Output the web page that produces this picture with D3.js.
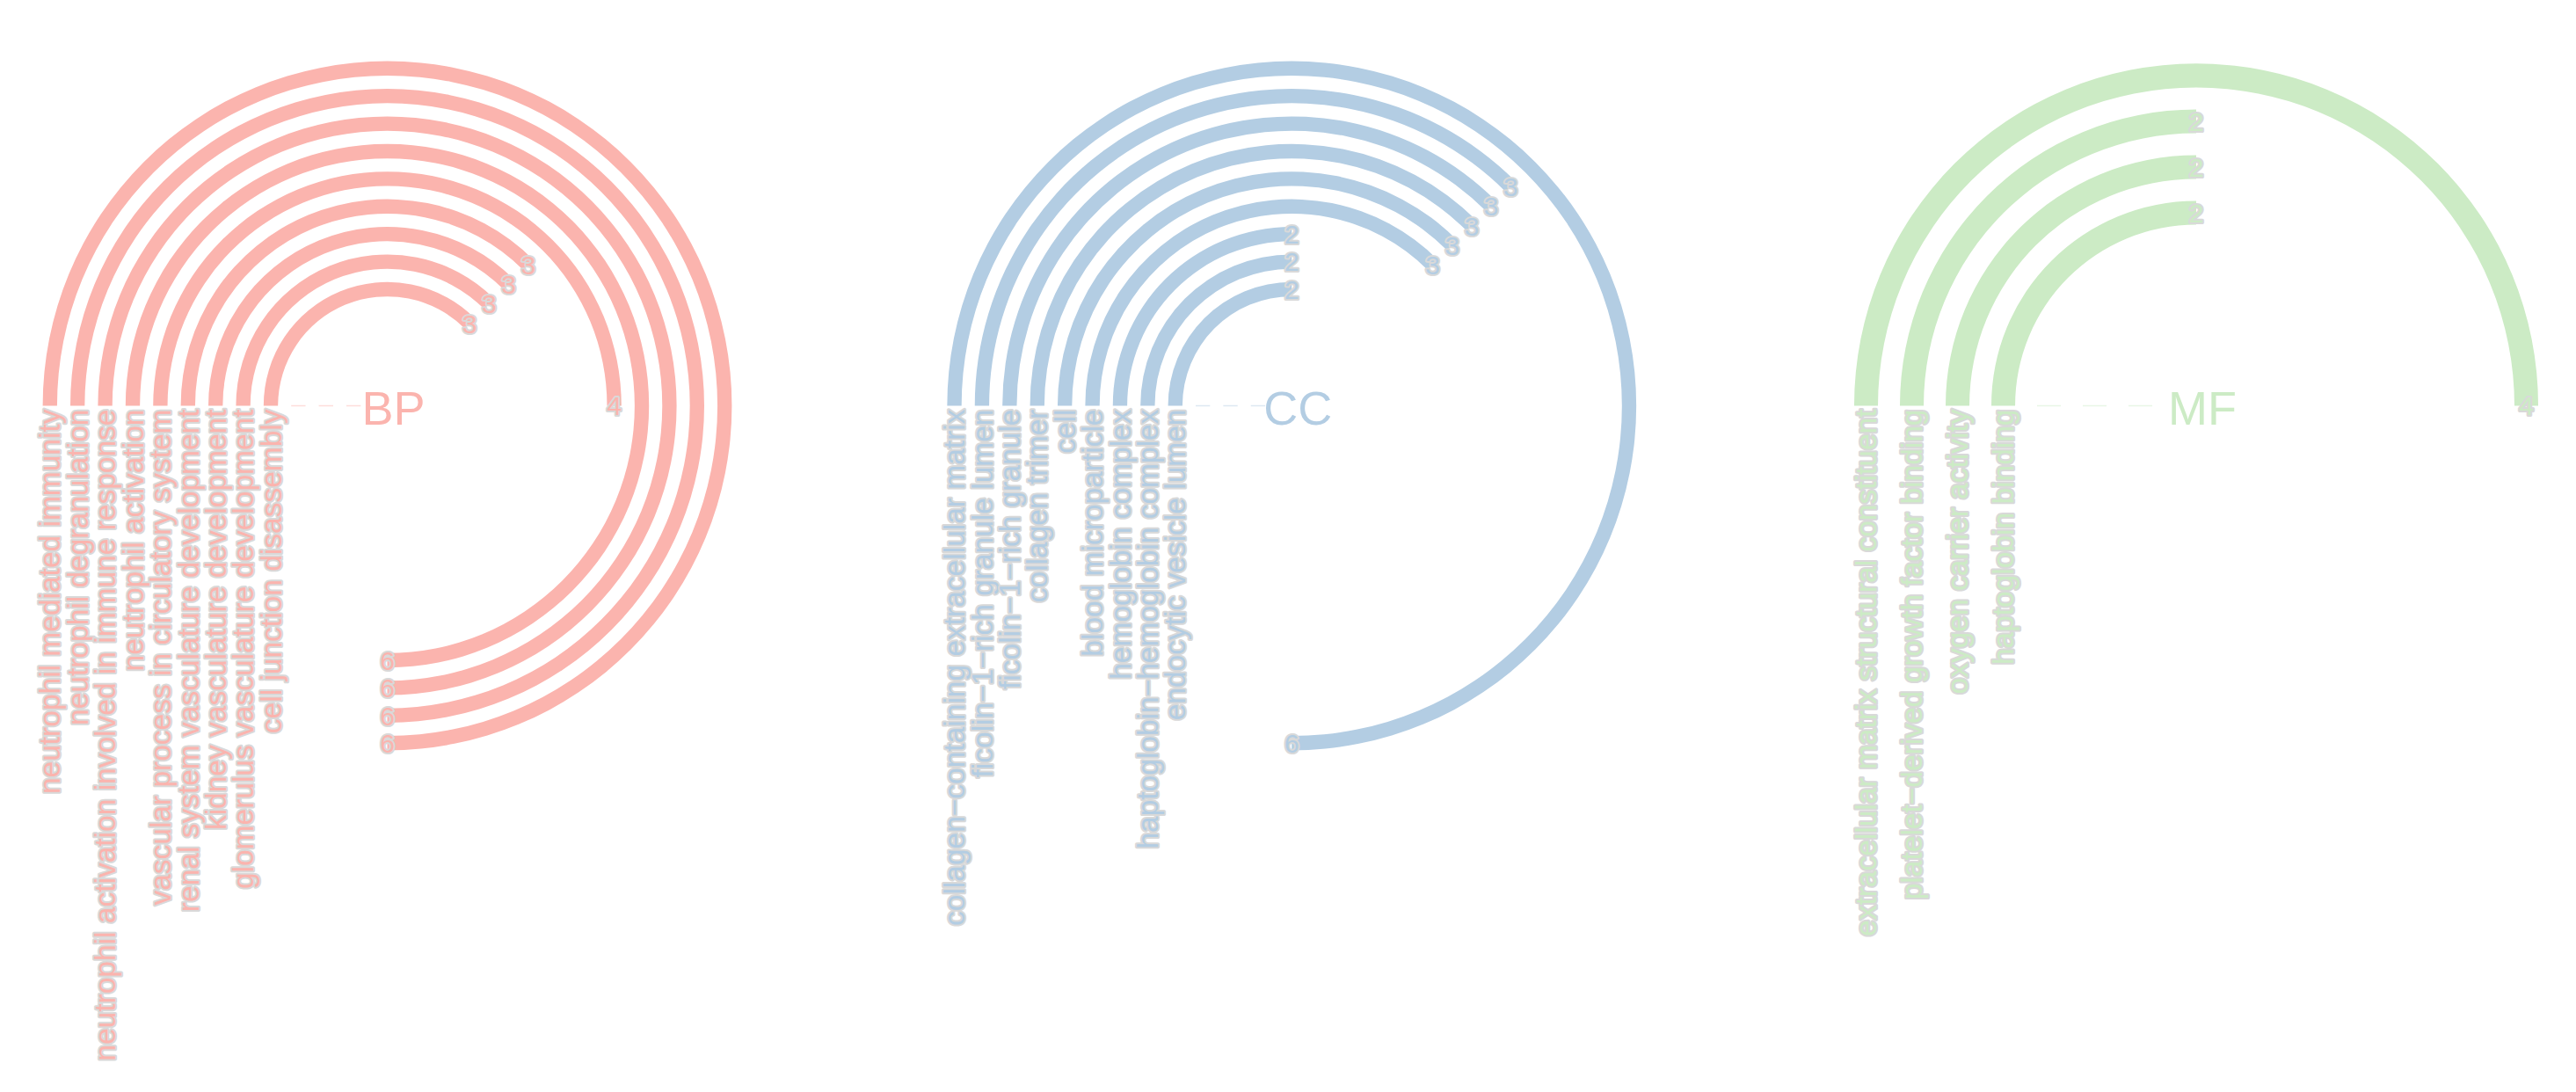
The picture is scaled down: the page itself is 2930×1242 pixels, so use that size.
<!DOCTYPE html>
<html>
<head>
<meta charset="utf-8">
<script src="https://cdn.jsdelivr.net/npm/d3@7"></script>
<style>
  html, body { margin: 0; padding: 0; background: #ffffff; }
  svg { display: block; }
</style>
</head>
<body>
<svg id="chart" width="2930" height="1242"></svg>
<script>
// ---- data ----
const panelNames = ["BP", "CC", "MF"];
const panelColors = ["#FBB4AE", "#B3CDE3", "#CCEBC5"];

const bpTerms = [
  "neutrophil mediated immunity",
  "neutrophil degranulation",
  "neutrophil activation involved in immune response",
  "neutrophil activation",
  "vascular process in circulatory system",
  "renal system vasculature development",
  "kidney vasculature development",
  "glomerulus vasculature development",
  "cell junction disassembly"
];
const bpCounts = [6, 6, 6, 6, 4, 3, 3, 3, 3];

const ccTerms = [
  "collagen\u2212containing extracellular matrix",
  "ficolin\u22121\u2212rich granule lumen",
  "ficolin\u22121\u2212rich granule",
  "collagen trimer",
  "cell",
  "blood microparticle",
  "hemoglobin complex",
  "haptoglobin\u2212hemoglobin complex",
  "endocytic vesicle lumen"
];
const ccCounts = [6, 3, 3, 3, 3, 3, 2, 2, 2];

const mfTerms = [
  "extracellular matrix structural constituent",
  "platelet\u2212derived growth factor binding",
  "oxygen carrier activity",
  "haptoglobin binding"
];
const mfCounts = [4, 2, 2, 2];

const panelTerms = [bpTerms, ccTerms, mfTerms];
const panelCounts = [bpCounts, ccCounts, mfCounts];

// ---- layout ----
const svg = d3.select("#chart");
const cy = 461.5;
const xPanel = d3.scaleLinear().domain([0, 2]).range([440.5, 2498]);
const angle = d3.scaleLinear().domain([0, 8]).range([-Math.PI / 2, 1.5 * Math.PI]);
const Rmax = 396.3;
const haloColor = "#d9d9d9";
const fontFamily = "'Liberation Sans', Arial, Helvetica, sans-serif";

panelNames.forEach((name, p) => {
  const terms = panelTerms[p];
  const counts = panelCounts[p];
  const color = panelColors[p];
  const n = terms.length;
  const cx = xPanel(p);
  const radius = d3.scaleLinear().domain([-3.22, n + 0.4]).range([0, Rmax]);
  const step = radius(1) - radius(0);
  const bw = step * 0.52;

  const g = svg.append("g").attr("transform", `translate(${cx},${cy})`);

  const rows = terms.map((t, i) => ({ term: t, count: counts[i], k: n - i }));

  // faint empty-level ghosts (zero-length bars)
  const ghosts = [0, -1, -2];
  g.selectAll("line.ghost").data(ghosts).join("line")
    .attr("class", "ghost")
    .attr("x1", k => -(radius(k) - bw / 2))
    .attr("x2", k => -(radius(k) + bw / 2))
    .attr("y1", 0).attr("y2", 0)
    .attr("stroke", color)
    .attr("stroke-opacity", 0.45)
    .attr("stroke-width", 1.5);

  // bars
  const arc = d3.arc()
    .innerRadius(d => radius(d.k) - bw / 2)
    .outerRadius(d => radius(d.k) + bw / 2)
    .startAngle(angle(0))
    .endAngle(d => angle(d.count));

  g.selectAll("path.bar").data(rows).join("path")
    .attr("class", "bar")
    .attr("d", arc)
    .attr("fill", color);

  // term labels (rotated, reading upward, ending just below the start line)
  g.selectAll("text.term").data(rows).join("text")
    .attr("class", "term")
    .attr("transform", d => `translate(${-radius(d.k)},${4}) rotate(-90)`)
    .attr("dy", "0.35em")
    .attr("text-anchor", "end")
    .attr("font-family", fontFamily)
    .attr("font-size", 33.5)
    .attr("fill", color)
    .attr("stroke", haloColor)
    .attr("stroke-width", 4)
    .attr("stroke-linejoin", "round")
    .attr("paint-order", "stroke")
    .text(d => d.term);

  // count labels at bar ends
  g.selectAll("text.count").data(rows).join("text")
    .attr("class", "count")
    .attr("x", d => radius(d.k) * Math.sin(angle(d.count)))
    .attr("y", d => -radius(d.k) * Math.cos(angle(d.count)))
    .attr("dy", "0.36em")
    .attr("text-anchor", "middle")
    .attr("font-family", fontFamily)
    .attr("font-size", 30)
    .attr("fill", color)
    .attr("stroke", haloColor)
    .attr("stroke-width", 4)
    .attr("stroke-linejoin", "round")
    .attr("paint-order", "stroke")
    .text(d => d.count);

  // panel title
  g.append("text")
    .attr("x", 7)
    .attr("y", 21.5)
    .attr("text-anchor", "middle")
    .attr("font-family", fontFamily)
    .attr("font-size", 54)
    .attr("fill", color)
    .text(name);
});
</script>
</body>
</html>
